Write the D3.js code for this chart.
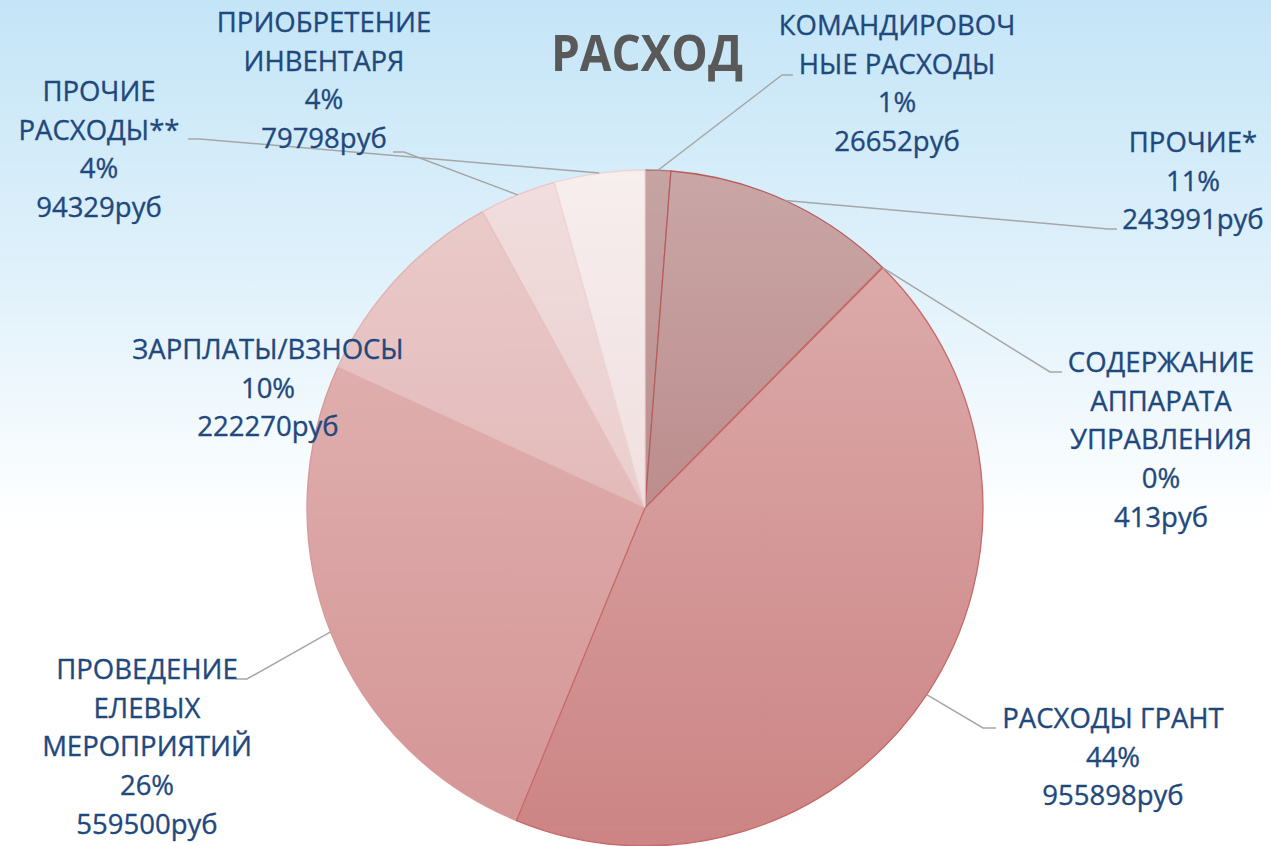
<!DOCTYPE html>
<html>
<head>
<meta charset="utf-8">
<script src="https://cdn.jsdelivr.net/npm/d3@7"></script>
<style>
  html, body { margin: 0; padding: 0; }
  body { width: 1271px; height: 846px; overflow: hidden; }
</style>
</head>
<body>
<svg id="chart" width="1271" height="846"></svg>
<script>
// Data
var categories = [
  "КОМАНДИРОВОЧНЫЕ РАСХОДЫ",
  "ПРОЧИЕ*",
  "СОДЕРЖАНИЕ АППАРАТА УПРАВЛЕНИЯ",
  "РАСХОДЫ ГРАНТ",
  "ПРОВЕДЕНИЕ ЕЛЕВЫХ МЕРОПРИЯТИЙ",
  "ЗАРПЛАТЫ/ВЗНОСЫ",
  "ПРИОБРЕТЕНИЕ ИНВЕНТАРЯ",
  "ПРОЧИЕ РАСХОДЫ**"
];
var values = [26652, 243991, 413, 955898, 559500, 222270, 79798, 94329];

// label lines as they wrap in the picture
var labelNames = [
  ["КОМАНДИРОВОЧ", "НЫЕ РАСХОДЫ"],
  ["ПРОЧИЕ*"],
  ["СОДЕРЖАНИЕ", "АППАРАТА", "УПРАВЛЕНИЯ"],
  ["РАСХОДЫ ГРАНТ"],
  ["ПРОВЕДЕНИЕ", "ЕЛЕВЫХ", "МЕРОПРИЯТИЙ"],
  ["ЗАРПЛАТЫ/ВЗНОСЫ"],
  ["ПРИОБРЕТЕНИЕ", "ИНВЕНТАРЯ"],
  ["ПРОЧИЕ", "РАСХОДЫ**"]
];

// slice colours: top of pie -> bottom of pie
var colorsTop = ["#c6a4a4", "#caa6a6", "#dcaaaa", "#dfb0b0", "#e4b8b8", "#ebcccc", "#f1dede", "#f7eeee"];
var colorsBottom = ["#ae7676", "#ae7474", "#cc8484", "#cc8484", "#d49494", "#dca8a8", "#e4bcbc", "#ead0d0"];
var strokes = ["#b07a7a", "#b85c5c", "#c05c5c", "#c86868", "#d89898", "#e0b2b2", "#e8c4c4", "#eed6d6"];

// label layout: text centre x, first baseline y, elbow point and stub end (null = no leader)
var labelLayout = [
  { x: 897,  y: 35,  elbow: [782, 75],   end: [793, 75] },
  { x: 1193, y: 152, elbow: [1108, 229], end: [1117, 229] },
  { x: 1161, y: 372, elbow: [1050, 372], end: [1062, 372] },
  { x: 1113, y: 728, elbow: [983, 728],  end: [996, 728] },
  { x: 147,  y: 679, elbow: [247, 679],  end: [236, 679] },
  { x: 268,  y: 359, elbow: null,        end: null },
  { x: 324,  y: 32,  elbow: [404, 152],  end: [393, 152] },
  { x: 99,   y: 101, elbow: [200, 139],  end: [188, 139] }
];

var W = 1271, H = 846;
var cx = 645, cy = 508, R = 338;
var lineH = 38.7;

var svg = d3.select("#chart");
var defs = svg.append("defs");

// background gradient
var bg = defs.append("linearGradient").attr("id", "bg")
  .attr("x1", 0).attr("y1", 0).attr("x2", 0).attr("y2", 1);
bg.append("stop").attr("offset", "0%").attr("stop-color", "#c4e5f7");
bg.append("stop").attr("offset", "35%").attr("stop-color", "#e2f2fb");
bg.append("stop").attr("offset", "62%").attr("stop-color", "#ffffff");
bg.append("stop").attr("offset", "100%").attr("stop-color", "#ffffff");
svg.append("rect").attr("width", W).attr("height", H).attr("fill", "url(#bg)");

// slice gradients, lighter at top, darker at bottom (in the pie group's own coordinates)
colorsTop.forEach(function(c, i) {
  var g = defs.append("linearGradient").attr("id", "sl" + i)
    .attr("gradientUnits", "userSpaceOnUse")
    .attr("x1", 0).attr("y1", -R).attr("x2", 0).attr("y2", R);
  g.append("stop").attr("offset", "0%").attr("stop-color", c);
  g.append("stop").attr("offset", "100%").attr("stop-color", colorsBottom[i]);
});

var total = d3.sum(values);
var pie = d3.pie().sort(null).value(function(d) { return d; });
var arcs = pie(values);
var arc = d3.arc().innerRadius(0).outerRadius(R);

var g = svg.append("g").attr("transform", "translate(" + cx + "," + cy + ")");
var slices = g.selectAll("path.slice")
  .data(arcs)
  .enter().append("path")
  .attr("class", "slice")
  .attr("d", arc)
  .attr("fill", function(d, i) { return "url(#sl" + i + ")"; })
  .attr("stroke", function(d, i) { return strokes[i]; })
  .attr("stroke-width", 1.3)
  .attr("stroke-linejoin", "round");

// the big grant slice keeps its darker outline on top
slices.filter(function(d, i) { return i === 3; }).raise();

// leader lines
arcs.forEach(function(d, i) {
  var L = labelLayout[i];
  if (!L.elbow) return;
  var a = (d.startAngle + d.endAngle) / 2;
  var sx = cx + R * Math.sin(a), sy = cy - R * Math.cos(a);
  svg.append("polyline")
    .attr("points", [[sx, sy], L.elbow, L.end].map(function(p) { return p.join(","); }).join(" "))
    .attr("fill", "none")
    .attr("stroke", "#a6a6a6")
    .attr("stroke-width", 1.5);
});

// labels
var fmtPct = function(v) { return Math.round(v / total * 100) + "%"; };
arcs.forEach(function(d, i) {
  var L = labelLayout[i];
  var lines = labelNames[i].concat([fmtPct(values[i]), values[i] + "руб"]);
  var t = svg.append("text")
    .attr("x", L.x).attr("y", L.y)
    .attr("text-anchor", "middle")
    .attr("font-family", "'Open Sans', sans-serif")
    .attr("font-size", 27.5)
    .attr("fill", "#1f497d")
    .attr("stroke", "#1f497d")
    .attr("stroke-width", 0.35);
  lines.forEach(function(s, k) {
    t.append("tspan").attr("x", L.x).attr("y", L.y + k * lineH).text(s);
  });
});

// title
svg.append("text")
  .attr("x", 647).attr("y", 71)
  .attr("text-anchor", "middle")
  .attr("font-family", "'Open Sans', sans-serif")
  .attr("font-weight", "bold")
  .attr("font-size", 51)
  .attr("textLength", 192)
  .attr("lengthAdjust", "spacingAndGlyphs")
  .attr("fill", "#595959")
  .text("РАСХОД");
</script>
</body>
</html>
